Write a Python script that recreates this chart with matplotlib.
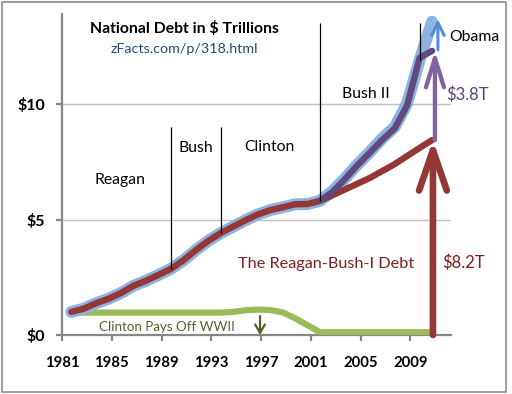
import numpy as np
import matplotlib
matplotlib.use("Agg")
import matplotlib.pyplot as plt
from matplotlib.patches import Rectangle

plt.rcParams['font.family'] = ['Lato', 'DejaVu Sans']

# ---- data (fiscal years, $ trillions) ----
years = np.arange(1981, 2011)
total_debt = [1.00, 1.14, 1.38, 1.57, 1.82, 2.13, 2.35, 2.60, 2.86, 3.23,
              3.67, 4.07, 4.41, 4.69, 4.97, 5.22, 5.41, 5.53, 5.66, 5.67,
              5.81, 6.23, 6.78, 7.38, 7.93, 8.51, 9.01, 10.03, 11.91, 13.56]
reagan_bush_debt = [1.00, 1.14, 1.38, 1.57, 1.82, 2.13, 2.35, 2.60, 2.86, 3.23,
                    3.67, 4.07, 4.41, 4.69, 4.97, 5.22, 5.41, 5.53, 5.66, 5.67,
                    5.81, 6.05, 6.30, 6.55, 6.80, 7.10, 7.40, 7.75, 8.10, 8.44]
bush2_years = np.arange(2001, 2011)
bush2_debt = [5.81, 6.20, 6.75, 7.35, 7.90, 8.45, 8.95, 9.95, 12.00, 12.30]
wwii_debt = [0.97, 0.97, 0.97, 0.97, 0.97, 0.97, 0.97, 0.97, 0.97, 0.97,
             0.97, 0.97, 0.97, 1.00, 1.07, 1.10, 1.08, 0.98, 0.72, 0.42,
             0.12, 0.12, 0.12, 0.12, 0.12, 0.12, 0.12, 0.12, 0.12, 0.12]
term_years = [1989, 1993, 2001, 2009]
term_tops = [9.0, 9.0, 13.5, 13.5]
tick_years = [1981, 1985, 1989, 1993, 1997, 2001, 2005, 2009]
y_ticks = [0, 5, 10]
y_labels = ['$0', '$5', '$10']

FY_END = 0.75  # fiscal year ends Sept 30
x_all = years + FY_END
x_b2 = bush2_years + FY_END
total_arr = np.array(total_debt)

W, H = 512, 394
fig = plt.figure(figsize=(W / 100, H / 100), dpi=100)
ax = fig.add_axes([62 / W, 1 - 335 / H, (451 - 62) / W, (335 - 14) / H])
ax.set_xlim(1981, 1981 + (451 - 62) / 12.44)
ax.set_ylim(0, (335 - 14) / 23.1)

for s in ['top', 'right']:
    ax.spines[s].set_visible(False)
for s in ['left', 'bottom']:
    ax.spines[s].set_color('#878787')
    ax.spines[s].set_linewidth(1.6)

ax.set_yticks(y_ticks)
ax.set_yticklabels(y_labels, fontsize=11.5, fontweight='bold')
ax.set_xticks(tick_years)
ax.set_xticklabels([str(t) for t in tick_years], fontsize=10.7, fontweight='bold')
ax.tick_params(axis='both', direction='out', length=4, width=1.6, color='#878787')
ax.tick_params(axis='y', pad=8)
ax.tick_params(axis='x', pad=11)
ax.yaxis.grid(True, color='#c0c0c0', lw=1.0)
ax.set_axisbelow(True)

# lines
ax.plot(x_all, wwii_debt, color='#9bbb59', lw=4.5, solid_capstyle='butt',
        solid_joinstyle='round', zorder=3)
ax.plot(x_all, total_debt, color='#8db3e2', lw=8.6, solid_capstyle='round',
        solid_joinstyle='round', zorder=4)
ax.plot(x_all, reagan_bush_debt, color='#953735', lw=4.6, solid_capstyle='round',
        solid_joinstyle='round', zorder=5)
ax.plot(x_b2, bush2_debt, color='#604a7b', lw=4.6, solid_capstyle='round',
        solid_joinstyle='round', zorder=6)

# presidential term markers
term_vals = [total_arr[list(years).index(y)] for y in term_years]
ax.vlines(np.array(term_years) + FY_END, term_vals, term_tops, color='black',
          lw=0.9, zorder=7)

# arrows
def arrow(x, y0, y1, color, lw, hl, hw):
    ax.annotate('', xy=(x, y1), xytext=(x, y0),
                arrowprops=dict(arrowstyle=f'->,head_length={hl},head_width={hw}',
                                color=color, lw=lw, shrinkA=0, shrinkB=0),
                annotation_clip=False, zorder=8)

arrow(2010.82, 0, reagan_bush_debt[-1], '#953735', 4.8, 2.9, 1.0)
arrow(2010.98, reagan_bush_debt[-1], bush2_debt[-1], '#8064a2', 3.1, 2.1, 0.65)
arrow(2011.22, bush2_debt[-1] + 0.05, total_debt[-1] + 0.1, '#558ed5', 2.2, 0.9, 0.45)
arrow(1996.92, 0.82, 0.0, '#4f6228', 1.6, 0.6, 0.35)

# texts (pixel positions -> figure fraction)
def ftext(px, py, s, **kw):
    fig.text(px / W, 1 - py / H, s, ha='center', va='baseline', **kw)

ftext(185, 33, 'National Debt in $ Trillions', fontsize=11.3, fontweight='bold', color='black')
ftext(184.5, 53, 'zFacts.com/p/318.html', fontsize=10.3, color='#1f497d')
ftext(120.5, 184, 'Reagan', fontsize=11.3, color='black')
ftext(195.7, 152, 'Bush', fontsize=11.3, color='black')
ftext(269, 151, 'Clinton', fontsize=11.3, color='black')
ftext(366, 98, 'Bush II', fontsize=11.3, color='black')
ftext(474.5, 41, 'Obama', fontsize=11.3, color='black')
ftext(467, 99.5, '$3.8T', fontsize=12, color='#5a4478')
ftext(326, 268, 'The Reagan-Bush-I Debt', fontsize=11.7, color='#7b2020')
ftext(463.5, 268, '$8.2T', fontsize=12, color='#7b2020')
ftext(166.7, 331, 'Clinton Pays Off WWII', fontsize=9.6, color='#4f6228')

fig.add_artist(Rectangle((2 / W, 1 - 392 / H), 504 / W, 390 / H,
                         transform=fig.transFigure, fill=False,
                         ec='#8c8c8c', lw=1.2))

fig.savefig('out.png', dpi=100)
